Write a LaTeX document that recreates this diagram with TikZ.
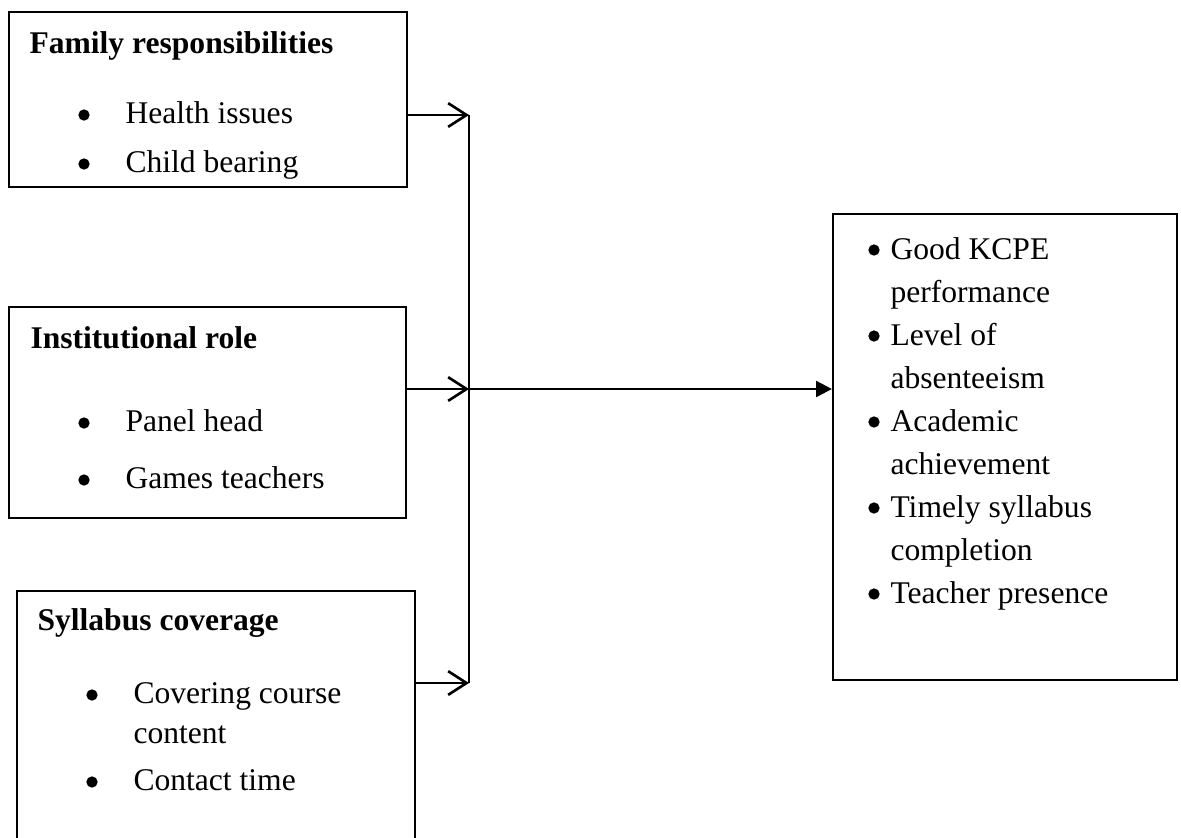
\documentclass[tikz,border=0pt]{standalone}
\usepackage{fontspec}
\setmainfont{Liberation Serif}
\usetikzlibrary{arrows.meta,fit}
\begin{document}
\begin{tikzpicture}[x=0.38pt,y=-0.38pt,
  box/.style={draw,line width=0.8pt,inner sep=0pt},
  txt/.style={anchor=base west,inner sep=0pt,font=\fontsize{12}{14}\selectfont},
  head/.style={anchor=base west,inner sep=0pt,font=\fontsize{12}{14}\selectfont\bfseries},
  bul/.style={circle,fill=black,inner sep=0pt,minimum size=4.3pt},
  conn/.style={line width=1pt},
  inarrow/.style={conn,-{Straight Barb[length=7pt,width=9pt,line width=1pt]}},
  outarrow/.style={conn,-{Triangle[length=6pt,width=6pt]}}]
\useasboundingbox (0,0) rectangle (1181,837);
% boxes
\node[box,fit={(9,12) (407,187)}] (fam) {};
\node[box,fit={(9,307) (406,518)}] (inst) {};
\node[box,fit={(17,591) (415,850)}] (syl) {};
\node[box,fit={(833,214) (1177,680)}] (out) {};
% box 1
\node[head] (h1) at (29,53) {Family responsibilities};
\node[bul] (b1a) at (84,115) {};
\node[txt] (t1a) at (125,123) {Health issues};
\node[bul] (b1b) at (84,164) {};
\node[txt] (t1b) at (125,172) {Child bearing};
% box 2
\node[head] (h2) at (30,348) {Institutional role};
\node[bul] (b2a) at (84,423) {};
\node[txt] (t2a) at (125,431) {Panel head};
\node[bul] (b2b) at (84,480) {};
\node[txt] (t2b) at (125,488) {Games teachers};
% box 3
\node[head] (h3) at (37,630) {Syllabus coverage};
\node[bul] (b3a) at (92,695) {};
\node[txt] (t3a) at (133,703) {Covering course};
\node[txt] (t3a2) at (133,743) {content};
\node[bul] (b3b) at (92,782) {};
\node[txt] (t3b) at (133,790) {Contact time};
% output box
\node[bul] (o1) at (874,250) {};
\node[txt] (o1a) at (890,259) {Good KCPE};
\node[txt] (o1b) at (890,302) {performance};
\node[bul] (o2) at (874,336) {};
\node[txt] (o2a) at (890,345) {Level of};
\node[txt] (o2b) at (890,388) {absenteeism};
\node[bul] (o3) at (874,422) {};
\node[txt] (o3a) at (890,431) {Academic};
\node[txt] (o3b) at (890,474) {achievement};
\node[bul] (o4) at (874,508) {};
\node[txt] (o4a) at (890,517) {Timely syllabus};
\node[txt] (o4b) at (890,560) {completion};
\node[bul] (o5) at (874,594) {};
\node[txt] (o5a) at (890,603) {Teacher presence};
% connectors
\coordinate (j1) at (469,115);
\coordinate (j2) at (469,389);
\coordinate (j3) at (469,683);
\draw[inarrow] (fam.east |- j1) -- (j1);
\draw[inarrow] (inst.east |- j2) -- (j2);
\draw[inarrow] (syl.east |- j3) -- (j3);
\draw[conn] (j1) -- (j3);
\draw[outarrow] (j2) -- (out.west |- j2);
\end{tikzpicture}
\end{document}
